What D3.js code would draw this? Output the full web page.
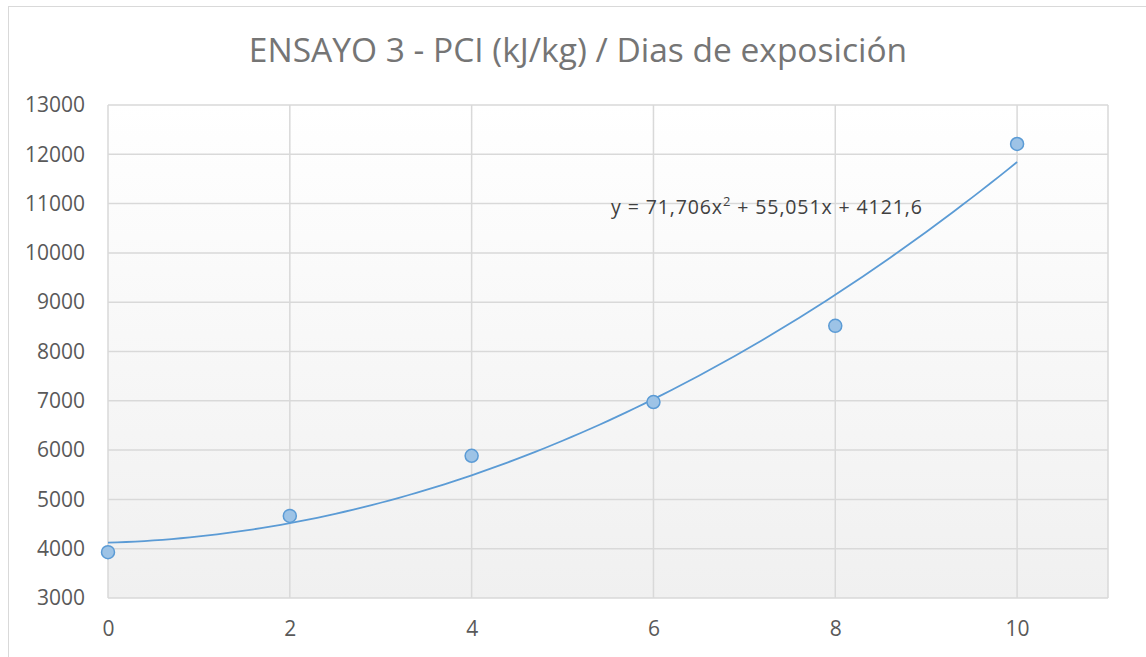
<!DOCTYPE html>
<html>
<head>
<meta charset="utf-8">
<script src="https://cdn.jsdelivr.net/npm/d3@7"></script>
<style>
  body { margin: 0; background: #fff; }
  svg text { font-family: "Open Sans", "Liberation Sans", sans-serif; }
</style>
</head>
<body>
<svg id="chart" width="1146" height="657"></svg>
<script>
// data
const dias = [0, 2, 4, 6, 8, 10];
const pci = [3930, 4665, 5885, 6975, 8520, 12210];
const yTicks = [3000, 4000, 5000, 6000, 7000, 8000, 9000, 10000, 11000, 12000, 13000];
const xTicks = [0, 2, 4, 6, 8, 10];
// polynomial trendline (order 2) as printed on the chart: a x^2 + b x + c
const trendCoeffs = [71.706, 55.051, 4121.6];
const chartTitle = "ENSAYO 3 - PCI (kJ/kg) / Dias de exposición";

const svg = d3.select("#chart");
const margin = { left: 108, top: 105, right: 1108, bottom: 598 };

// outer chart border
svg.append("rect")
  .attr("x", 8.5).attr("y", 6.5)
  .attr("width", 1160).attr("height", 660)
  .attr("fill", "#fff")
  .attr("stroke", "#d9d9d9");

const x = d3.scaleLinear().domain([0, 11]).range([margin.left, margin.right]);
const y = d3.scaleLinear().domain([3000, 13000]).range([margin.bottom, margin.top]);

// plot area gradient
const grad = svg.append("defs").append("linearGradient")
  .attr("id", "bg").attr("x1", 0).attr("y1", 0).attr("x2", 0).attr("y2", 1);
grad.append("stop").attr("offset", "0%").attr("stop-color", "#ffffff");
grad.append("stop").attr("offset", "100%").attr("stop-color", "#f0f0f0");

svg.append("rect")
  .attr("x", margin.left).attr("y", margin.top)
  .attr("width", margin.right - margin.left)
  .attr("height", margin.bottom - margin.top)
  .attr("fill", "url(#bg)");

// gridlines
svg.append("g").selectAll("line")
  .data(yTicks).enter().append("line")
  .attr("x1", margin.left).attr("x2", margin.right)
  .attr("y1", d => y(d)).attr("y2", d => y(d))
  .attr("stroke", "#d9d9d9").attr("stroke-width", 1.5);

svg.append("g").selectAll("line")
  .data(xTicks.concat([11])).enter().append("line")
  .attr("x1", d => x(d)).attr("x2", d => x(d))
  .attr("y1", margin.top).attr("y2", margin.bottom)
  .attr("stroke", "#d9d9d9").attr("stroke-width", 1.5);

// axis labels
const xAxis = svg.append("g")
  .attr("transform", `translate(0,${margin.bottom})`)
  .call(d3.axisBottom(x).tickValues(xTicks).tickSize(0).tickPadding(23));
const yAxis = svg.append("g")
  .attr("transform", `translate(${margin.left},0)`)
  .call(d3.axisLeft(y).tickValues(yTicks).tickSize(0).tickPadding(23).tickFormat(d3.format("d")));
[xAxis, yAxis].forEach(a => {
  a.select(".domain").remove();
  a.selectAll("text").attr("font-size", 21).attr("fill", "#595959")
    .style("font-family", "'Open Sans', sans-serif");
});

// trendline
const trend = d3.range(0, 10.001, 0.1).map(t =>
  [t, trendCoeffs[0] * t * t + trendCoeffs[1] * t + trendCoeffs[2]]);
svg.append("path")
  .datum(trend)
  .attr("fill", "none")
  .attr("stroke", "#5b9bd5")
  .attr("stroke-width", 1.8)
  .attr("d", d3.line().x(d => x(d[0])).y(d => y(d[1])));

// markers
svg.append("g").selectAll("circle")
  .data(dias).enter().append("circle")
  .attr("cx", d => x(d))
  .attr("cy", (d, i) => y(pci[i]))
  .attr("r", 6.5)
  .attr("fill", "#9dc3e6")
  .attr("stroke", "#5b9bd5")
  .attr("stroke-width", 1.5);

// equation label
const eq = svg.append("text")
  .attr("x", 611).attr("y", 214)
  .attr("font-size", 19.5).attr("fill", "#404040")
  .attr("letter-spacing", 0.9);
eq.append("tspan").text("y = 71,706x");
eq.append("tspan").attr("dy", -8).attr("font-size", 13).text("2");
eq.append("tspan").attr("dy", 8).text(" + 55,051x + 4121,6");

// title
svg.append("text")
  .attr("x", 578).attr("y", 62)
  .attr("text-anchor", "middle")
  .attr("font-size", 33.5)
  .attr("fill", "#757575")
  .text(chartTitle);
</script>
</body>
</html>
